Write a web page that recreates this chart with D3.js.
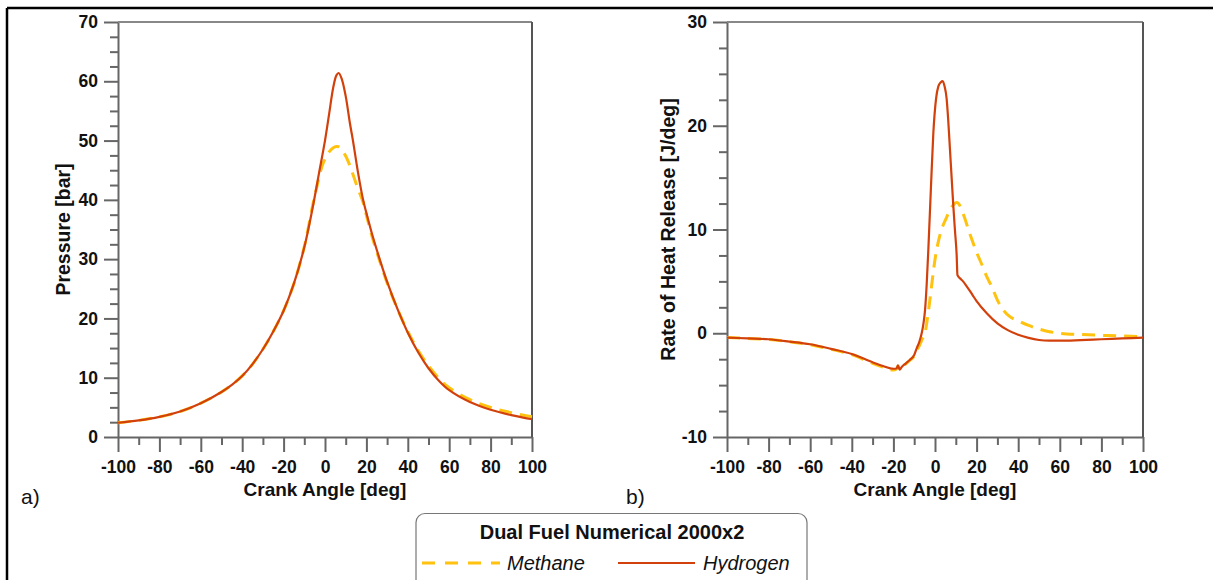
<!DOCTYPE html>
<html><head><meta charset="utf-8">
<script src="https://cdn.jsdelivr.net/npm/d3@7"></script>
<style>
body{margin:0;background:#fff}
svg{display:block}
text{font-family:"Liberation Sans",Arial,sans-serif;fill:#111}
</style>
</head><body>
<svg id="c" width="1213" height="580"></svg>
<script>
// ---------- data ----------
const angleTicks = [-100,-80,-60,-40,-20,0,20,40,60,80,100];
const pressureTicks = [0,10,20,30,40,50,60,70];
const rohrTicks = [-10,0,10,20,30];

const pressureAngleH = [-100,-90,-80,-70,-60,-50,-45,-40,-35,-30,-25,-20,-15,-10,-6,-3,0,2,4,5.5,6.6,8,10,12,13.5,16,18.4,20,23,26.6,30,35,40,45,50,55,60,70,80,90,100];
const pressureHydrogen = [2.4,2.8,3.4,4.3,5.7,7.6,8.8,10.3,12.3,14.8,17.8,21.3,25.9,32.0,38.6,44.3,50,54.5,59,61,61.4,60.5,57.5,53,50,44.5,40,37.8,33.9,29.8,26.2,21.6,17.6,14.3,11.6,9.5,7.9,5.9,4.6,3.7,3.0];

const pressureAngleM = [-100,-90,-80,-70,-60,-50,-45,-40,-35,-30,-25,-20,-15,-10,-6,-3,-1.5,0,2,4,5.5,7,8,10,12,13.5,16,18.4,20,23,26.6,30,35,40,45,50,55,60,70,80,90,100];
const pressureMethane = [2.4,2.8,3.4,4.3,5.7,7.6,8.8,10.3,12.3,14.8,17.8,21.3,25.9,32.1,39.0,43.6,45.6,46.9,48.1,48.8,49.0,48.9,48.5,47.4,45.8,44.3,41.8,39.6,37.4,33.5,29.5,26.0,21.6,17.8,14.6,12.0,9.9,8.3,6.3,5.0,4.1,3.4];

const rohrAngleH = [-100,-90,-80,-70,-60,-50,-40,-30,-25,-20,-18.5,-17.8,-17,-16,-14,-12,-10,-8.8,-7.5,-6.4,-5.5,-4.8,-4,-3.2,-2,-0.8,0.5,1.6,2.8,3.7,4.6,5.6,6.4,7.2,8,8.8,9.6,10.4,10.8,12,13.5,15,18,20,25,30,35,40,45,50,55,60,70,80,90,100];
const rohrHydrogen = [-0.42,-0.5,-0.58,-0.8,-1.06,-1.5,-2.0,-2.8,-3.15,-3.42,-3.4,-3.1,-3.5,-3.25,-2.9,-2.55,-2.1,-1.45,-0.8,0.0,1.0,2.2,4.7,8.1,13.8,19.3,22.6,23.8,24.2,24.3,23.8,22.6,20.4,17.7,15.0,12.3,9.9,7.6,5.6,5.3,5.0,4.6,3.7,3.1,1.9,0.95,0.3,-0.15,-0.45,-0.65,-0.72,-0.72,-0.66,-0.58,-0.5,-0.42];

const rohrAngleM = [-100,-90,-80,-70,-60,-50,-40,-30,-25,-20,-18.5,-17.8,-17,-16,-14,-12,-10,-8.8,-7.5,-6.2,-4.8,-3.6,-2.4,-1.2,0,1.8,3.5,5.2,7,8.5,10.4,12,13.4,14.8,16.2,17.6,20,23,25,27.3,30,33,36,40,45,50,55,60,70,80,90,100];
const rohrMethane = [-0.42,-0.5,-0.6,-0.82,-1.1,-1.55,-2.05,-2.9,-3.25,-3.55,-3.45,-3.15,-3.55,-3.3,-2.95,-2.6,-2.2,-1.7,-1.2,-0.6,0.0,1.5,3.3,5.3,7.1,9.0,10.2,11.0,11.8,12.3,12.6,12.3,11.6,10.8,9.9,9.1,7.8,6.4,5.4,4.5,3.2,2.2,1.6,1.2,0.75,0.4,0.15,0.0,-0.12,-0.2,-0.27,-0.32];

const legendTitle = "Dual Fuel Numerical 2000x2";
const seriesNames = ["Methane","Hydrogen"];
const seriesColors = ["#ffc20e","#d2400c"];

// ---------- drawing ----------
const svg = d3.select("#c");
const zip = (xs, ys) => xs.map((x,i)=>[x, ys[i]]);
const plain = d => String(d);

// outer border (top and left)
svg.append("line").attr("x1",7).attr("y1",8).attr("x2",1213).attr("y2",8).attr("stroke","#000").attr("stroke-width",2.5);
svg.append("line").attr("x1",7).attr("y1",8).attr("x2",7).attr("y2",580).attr("stroke","#000").attr("stroke-width",2.5);

function panel(o){
  const x = d3.scaleLinear().domain([-100,100]).range([o.x0,o.x1]);
  const y = d3.scaleLinear().domain(o.yDomain).range([o.y1,o.y0]);
  const g = svg.append("g");

  // minor ticks
  const yMinor = d3.range(o.yDomain[0], o.yDomain[1]+0.001, 2.5).filter(v=>o.yTicks.indexOf(v)<0);
  g.append("g").attr("transform",`translate(${o.x0},0)`)
    .call(d3.axisLeft(y).tickValues(yMinor).tickSize(8).tickFormat("").tickSizeOuter(0))
    .call(s=>s.select(".domain").remove())
    .selectAll("line").attr("stroke","#666").attr("stroke-width",2);
  const xMinor = d3.range(-90,100,20);
  g.append("g").attr("transform",`translate(0,${o.y1})`)
    .call(d3.axisBottom(x).tickValues(xMinor).tickSize(8).tickFormat("").tickSizeOuter(0))
    .call(s=>s.select(".domain").remove())
    .selectAll("line").attr("stroke","#666").attr("stroke-width",2);

  // major axes
  const ay = g.append("g").attr("transform",`translate(${o.x0},0)`)
    .call(d3.axisLeft(y).tickValues(o.yTicks).tickFormat(plain).tickSize(14).tickPadding(6).tickSizeOuter(0));
  const ax = g.append("g").attr("transform",`translate(0,${o.y1})`)
    .call(d3.axisBottom(x).tickValues(angleTicks).tickFormat(plain).tickSize(15).tickPadding(9).tickSizeOuter(0));
  [ay,ax].forEach(a=>{
    a.select(".domain").attr("stroke","#666").attr("stroke-width",2);
    a.selectAll(".tick line").attr("stroke","#666").attr("stroke-width",2);
    a.selectAll(".tick text").attr("font-size",17.5).attr("font-weight","bold")
      .attr("font-family","'Liberation Sans',Arial,sans-serif").attr("fill","#111");
  });

  // frame top/right
  g.append("line").attr("x1",o.x0).attr("y1",o.y0).attr("x2",o.x1).attr("y2",o.y0).attr("stroke","#888").attr("stroke-width",2);
  g.append("line").attr("x1",o.x1).attr("y1",o.y0).attr("x2",o.x1).attr("y2",o.y1).attr("stroke","#555").attr("stroke-width",2);

  // curves
  const line = d3.line().x(d=>x(d[0])).y(d=>y(d[1])).curve(o.curve);
  g.append("path").datum(zip(o.mx,o.my)).attr("d",line).attr("fill","none")
    .attr("stroke",seriesColors[0]).attr("stroke-width",3).attr("stroke-dasharray","13,8");
  g.append("path").datum(zip(o.hx,o.hy)).attr("d",line).attr("fill","none")
    .attr("stroke",seriesColors[1]).attr("stroke-width",2.2);

  // titles
  g.append("text").attr("x",(o.x0+o.x1)/2).attr("y",496).attr("text-anchor","middle")
    .attr("font-size",19).attr("font-weight","bold").text("Crank Angle [deg]");
  g.append("text").attr("transform",`translate(${o.ytx},${(o.y0+o.y1)/2}) rotate(-90)`)
    .attr("text-anchor","middle").attr("font-size",19.5).attr("font-weight","bold").text(o.yTitle);
  g.append("text").attr("x",o.lx).attr("y",504).attr("font-size",21).text(o.letter);
}

panel({x0:118,x1:532,y0:22,y1:437,yDomain:[0,70],yTicks:pressureTicks,curve:d3.curveCatmullRom.alpha(0.5),
  mx:pressureAngleM,my:pressureMethane,hx:pressureAngleH,hy:pressureHydrogen,
  yTitle:"Pressure [bar]",ytx:70,letter:"a)",lx:21});
panel({x0:727,x1:1143,y0:22,y1:437,yDomain:[-10,30],yTicks:rohrTicks,curve:d3.curveMonotoneX,
  mx:rohrAngleM,my:rohrMethane,hx:rohrAngleH,hy:rohrHydrogen,
  yTitle:"Rate of Heat Release [J/deg]",ytx:675,letter:"b)",lx:626});

// legend
const lg = svg.append("g");
lg.append("rect").attr("x",416).attr("y",513.5).attr("width",391).attr("height",90).attr("rx",9)
  .attr("fill","#fff").attr("stroke","#777").attr("stroke-width",1.2);
lg.append("text").attr("x",612).attr("y",539).attr("text-anchor","middle")
  .attr("font-size",20).attr("font-weight","bold").text(legendTitle);
const legendItems = [
  {x1:422,x2:500,tx:507,dash:"13,10",w:3},
  {x1:618,x2:695,tx:703,dash:null,w:2.2}
];
legendItems.forEach((it,i)=>{
  const l = lg.append("line").attr("x1",it.x1).attr("x2",it.x2).attr("y1",563).attr("y2",563)
    .attr("stroke",seriesColors[i]).attr("stroke-width",it.w);
  if(it.dash) l.attr("stroke-dasharray",it.dash);
  lg.append("text").attr("x",it.tx).attr("y",570).attr("font-size",20).attr("font-style","italic").text(seriesNames[i]);
});
</script>
</body></html>
